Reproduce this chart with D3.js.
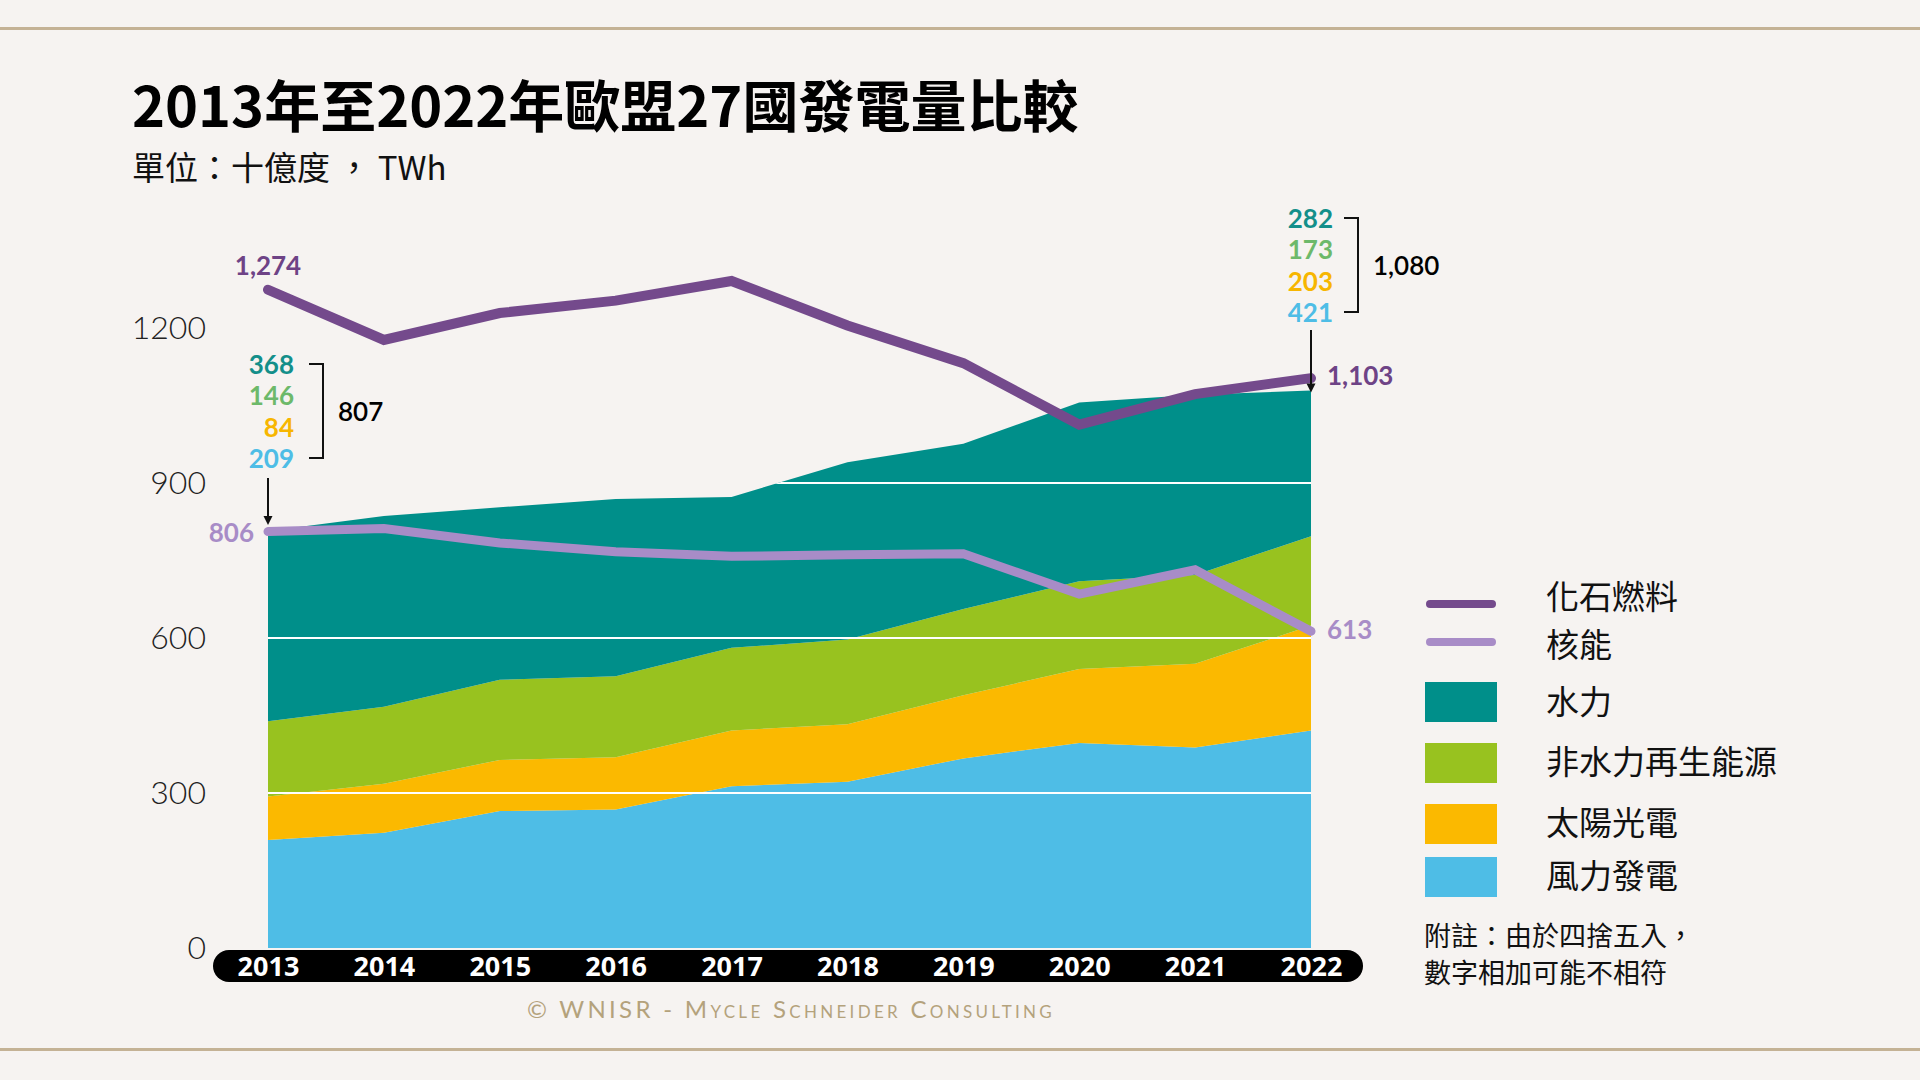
<!DOCTYPE html>
<html><head><meta charset="utf-8">
<script src="https://cdn.jsdelivr.net/npm/d3@7"></script>
<style>
html,body{margin:0;padding:0;background:#f6f3f1;}
svg{display:block;}
</style></head>
<body>
<svg id="chart" width="1920" height="1080"></svg>
<script>
// ---------- DATA ----------
const years    = [2013,2014,2015,2016,2017,2018,2019,2020,2021,2022];
const wind     = [209,223,265,268,313,322,367,397,388,421];
const solar    = [84,95,99,101,108,111,122,143,162,203];
const nonHydro = [146,149,155,157,160,164,167,170,172,173];
const hydro    = [368,369,334,343,292,343,320,346,349,282];
const fossil   = [1274,1177,1229,1253,1291,1205,1132,1013,1072,1103];
const nuclear  = [806,812,784,767,758,761,763,685,732,613];
const yTicks   = [0,300,600,900,1200];
const totalLabels = ["807","1,080"];
const seriesKeys   = ["wind","solar","nonHydro","hydro"];
const legendLabels = ["化石燃料","核能","水力","非水力再生能源","太陽光電","風力發電"];
const titleText = "2013年至2022年歐盟27國發電量比較";
const subtitleText = "單位：十億度 ， TWh";
const noteLines = ["附註：由於四捨五入，","數字相加可能不相符"];
const creditText = "© WNISR - Mycle Schneider Consulting";

(function(){
// ---------- STYLE ----------
const colors = {wind:"#4ebde6", solar:"#fbb900", nonHydro:"#98c21f", hydro:"#008f8a",
                fossil:"#744a8c", nuclear:"#a88cc7"};
const labelColors = {wind:"#4ebde6", solar:"#f7b600", nonHydro:"#6db96a", hydro:"#138f8a",
                fossil:"#6e4386", nuclear:"#a88cc7"};
const numFont = "Lato, 'Open Sans', sans-serif";
const cjkFont = "'Noto Sans CJK TC','Noto Sans CJK SC',sans-serif";

const svg = d3.select("#chart");
svg.append("rect").attr("width",1920).attr("height",1080).attr("fill","#f6f3f1");
svg.append("rect").attr("x",0).attr("y",27).attr("width",1920).attr("height",3).attr("fill","#c4b295");
svg.append("rect").attr("x",0).attr("y",1048).attr("width",1920).attr("height",3).attr("fill","#c4b295");

// titles
svg.append("text").attr("x",132).attr("y",127).text(titleText)
  .attr("font-family",cjkFont).attr("font-weight",700).attr("font-size",56).attr("fill","#000");
svg.append("text").attr("x",132).attr("y",180).text(subtitleText)
  .attr("font-family",cjkFont).attr("font-weight",400).attr("font-size",33).attr("fill","#111");

// scales
const x = d3.scaleLinear().domain([2013,2022]).range([268,1311]);
const y = d3.scaleLinear().domain([0,1200]).range([948,328]);

const table = years.map((yr,i)=>({year:yr, wind:wind[i], solar:solar[i], nonHydro:nonHydro[i], hydro:hydro[i]}));
const stack = d3.stack().keys(seriesKeys)(table);

const area = d3.area().x(d=>x(d.data.year)).y0(d=>y(d[0])).y1(d=>y(d[1]));
svg.append("g").selectAll("path").data(stack).join("path")
  .attr("d",area).attr("fill",d=>colors[d.key]);

// clip for gridlines
const topLayer = stack[stack.length-1];
svg.append("clipPath").attr("id","areaClip").append("path")
  .attr("d", d3.area().x(d=>x(d.data.year)).y0(y(0)).y1(d=>y(d[1]))(topLayer));
svg.append("g").attr("clip-path","url(#areaClip)").selectAll("line")
  .data(yTicks.filter(v=>v>0)).join("line")
  .attr("x1",x(2013)).attr("x2",x(2022)).attr("y1",d=>y(d)).attr("y2",d=>y(d))
  .attr("stroke","#ffffff").attr("stroke-width",2);

// y axis
const yAxis = d3.axisLeft(y).tickValues(yTicks).tickSize(0).tickPadding(62).tickFormat(d3.format("d"));
const ga = svg.append("g").attr("transform",`translate(${x(2013)},0)`).call(yAxis);
ga.select(".domain").remove();
ga.selectAll("text").attr("font-family",numFont).attr("font-weight",300)
  .attr("font-size",32).attr("fill","#222");

// lines
const line = d3.line().x((d,i)=>x(years[i])).y(d=>y(d));
svg.append("path").attr("d",line(nuclear)).attr("fill","none").attr("stroke",colors.nuclear)
  .attr("stroke-width",9).attr("stroke-linecap","round");
svg.append("path").attr("d",line(fossil)).attr("fill","none").attr("stroke",colors.fossil)
  .attr("stroke-width",10).attr("stroke-linecap","round");

// x axis pill
svg.append("rect").attr("x",213).attr("y",950).attr("width",1150).attr("height",32)
  .attr("rx",16).attr("fill","#000");
const xAxis = d3.axisBottom(x).tickValues(years).tickFormat(d3.format("d")).tickSize(0).tickPadding(0);
const gx = svg.append("g").attr("transform","translate(0,950)").call(xAxis);
gx.select(".domain").remove();
gx.selectAll("text").attr("font-family","'Noto Sans',sans-serif").attr("font-weight",700)
  .attr("font-size",27).attr("fill","#fff").attr("dy","0").attr("y",26);

// annotations
const fmt = d3.format(",");
const last = years.length-1;
function label(txt, xx, yy, anchor, color, size, weight){
  svg.append("text").attr("x",xx).attr("y",yy).attr("text-anchor",anchor)
    .attr("dominant-baseline","central").attr("font-family",numFont)
    .attr("font-weight",weight||700).attr("font-size",size||26).attr("fill",color).text(txt);
}
label(fmt(fossil[0]), x(2013), 265, "middle", labelColors.fossil);
label(fmt(nuclear[0]), x(2013)-14, y(nuclear[0]), "end", labelColors.nuclear);
label(fmt(nuclear[last]), x(2022)+16, y(nuclear[last])-2, "start", labelColors.nuclear);
label(fmt(fossil[last]), x(2022)+16, y(fossil[last])-3, "start", labelColors.fossil);

const stackOrderTopDown = ["hydro","nonHydro","solar","wind"];
const src = {wind, solar, nonHydro, hydro};
function stackLabels(idx, rightX, topY, bx, total, totalX){
  stackOrderTopDown.forEach((k,j)=>{
    label(fmt(src[k][idx]), rightX, topY + j*31.3, "end", labelColors[k]);
  });
  const bot = topY + 3*31.3;
  svg.append("path").attr("d",`M${bx-14},${topY}H${bx}V${bot}H${bx-14}`)
    .attr("fill","none").attr("stroke","#111").attr("stroke-width",2);
  label(total, totalX, (topY+bot)/2, "start", "#000", 26, 600);
}
stackLabels(0, 294, 364, 323, totalLabels[0], 338);
stackLabels(last, 1333, 218, 1358, totalLabels[1], 1373);

function arrow(xx, y1, y2){
  svg.append("line").attr("x1",xx).attr("x2",xx).attr("y1",y1).attr("y2",y2-7)
    .attr("stroke","#111").attr("stroke-width",2);
  svg.append("path").attr("d",`M${xx-4.5},${y2-9}L${xx+4.5},${y2-9}L${xx},${y2}Z`).attr("fill","#111");
}
const tot0 = wind[0]+solar[0]+nonHydro[0]+hydro[0];
const totL = wind[last]+solar[last]+nonHydro[last]+hydro[last];
arrow(x(2013), 478, y(tot0)-6);
arrow(x(2022), 330, y(totL)+2);

// legend
const lg = svg.append("g");
const legendYs = [604,642,702,763,824,877];
const legendTextYs = [595,643,700,760,821,874];
const legendKeys = ["fossil","nuclear","hydro","nonHydro","solar","wind"];
legendKeys.forEach((k,i)=>{
  if(i<2){
    lg.append("line").attr("x1",1430).attr("x2",1492).attr("y1",legendYs[i]).attr("y2",legendYs[i])
      .attr("stroke",colors[k]).attr("stroke-width",8).attr("stroke-linecap","round");
  } else {
    lg.append("rect").attr("x",1425).attr("y",legendYs[i]-20).attr("width",72).attr("height",40)
      .attr("fill",colors[k]);
  }
  lg.append("text").attr("x",1546).attr("y",legendTextYs[i]).attr("dominant-baseline","central")
    .attr("font-family",cjkFont).attr("font-size",33).attr("fill","#111").text(legendLabels[i]);
});
noteLines.forEach((t,i)=>{
  svg.append("text").attr("x",1424).attr("y",934+i*37).attr("dominant-baseline","central")
    .attr("font-family",cjkFont).attr("font-size",27).attr("fill","#111").text(t);
});

// credit
svg.append("text").attr("x",791).attr("y",1018).attr("text-anchor","middle")
  .attr("font-family",numFont).attr("font-size",24).attr("letter-spacing",3.3)
  .style("font-variant","small-caps").attr("fill","#b4a27c").text(creditText);
})();
</script>
</body></html>
